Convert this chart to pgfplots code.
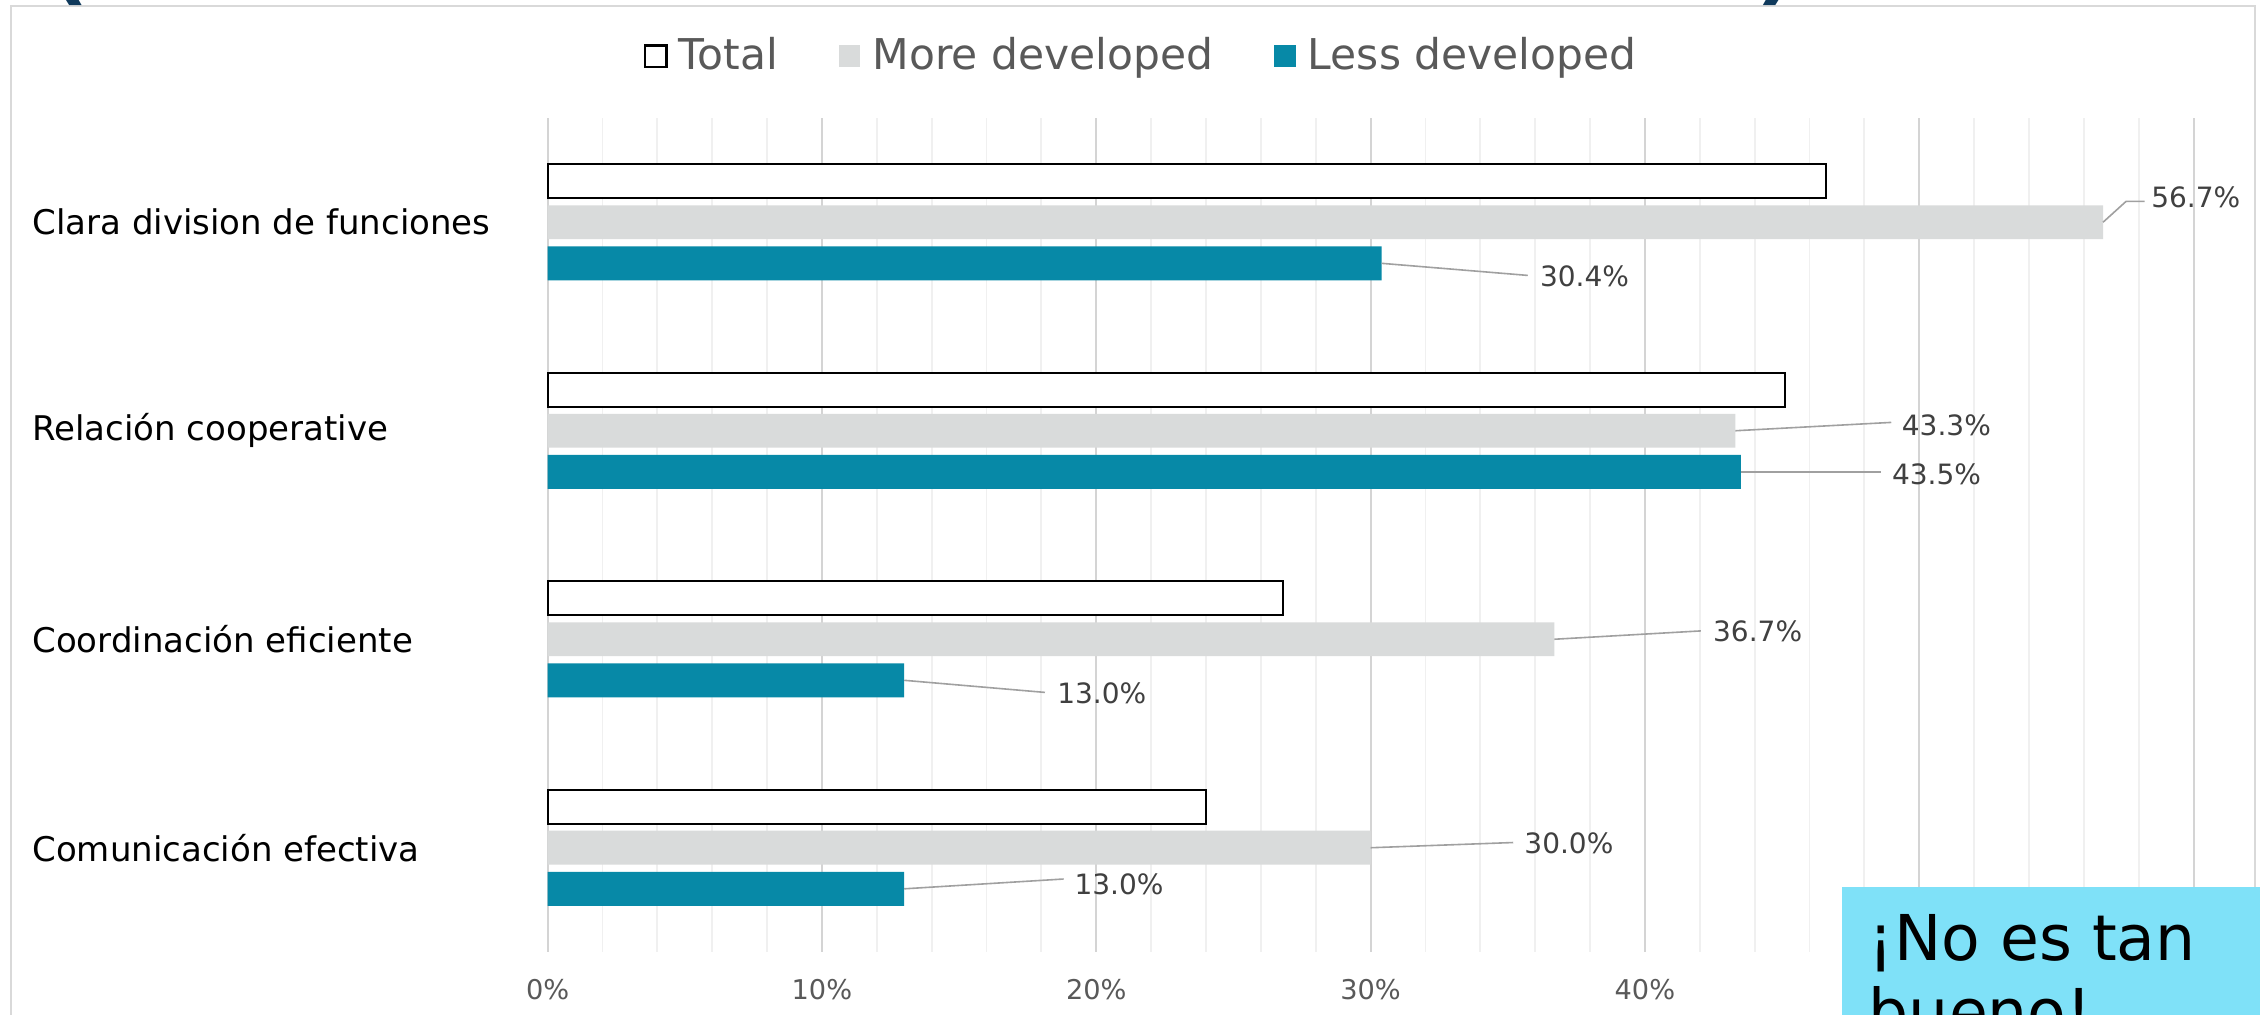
\documentclass[border=0pt]{standalone}
\usepackage{fontspec}
\setmainfont{DejaVu Sans}
\usepackage{pgfplots}
\pgfplotsset{compat=1.18}
\definecolor{moredev}{RGB}{217,219,219}
\definecolor{lessdev}{RGB}{7,137,167}
\definecolor{boxcyan}{RGB}{127,225,248}
\definecolor{navy}{RGB}{16,58,92}
\definecolor{txtgray}{RGB}{89,89,89}
\definecolor{lblgray}{RGB}{64,64,64}
\definecolor{leader}{RGB}{160,160,160}
\begin{document}
\begin{tikzpicture}
\path[use as bounding box, clip] (0pt,0pt) rectangle (565pt,253.75pt);
\fill[white] (0pt,0pt) rectangle (565pt,253.75pt);
\draw[color=black!15, line width=0.6pt] (2.75pt,-10pt) rectangle (563.75pt,252.3pt);
\node[anchor=base, font=\fontsize{40}{40}\selectfont, text=navy, inner sep=0pt] at (16pt,257.5pt) {(};
\node[anchor=base, font=\fontsize{40}{40}\selectfont, text=navy, inner sep=0pt] at (445.5pt,257.5pt) {)};
\begin{axis}[
  at={(136.9pt,15.75pt)}, anchor=south west,
  scale only axis, width=425.2pt, height=208.5pt,
  xmin=0, xmax=62, ymin=0.5, ymax=4.5,
  xbar, bar width=0.163,
  clip=false,
  axis line style={draw=none},
  major tick length=0pt, minor tick length=0pt,
  xtick={0,10,...,60},
  minor x tick num=4,
  xmajorgrids, xminorgrids,
  major grid style={color=black!17, line width=0.5pt},
  minor grid style={color=black!6, line width=0.45pt},
  /pgf/number format/assume math mode=true,
  xticklabel={\pgfmathprintnumber{\tick}\%},
  xticklabel style={font=\fontsize{6.8}{8}\selectfont, text=txtgray, anchor=center, yshift=-9.5pt},
  ytick={1,2,3,4},
  yticklabels={Comunicación efectiva, Coordinación eficiente, Relación cooperative, Clara division de funciones},
  yticklabel style={font=\fontsize{8.5}{10}\selectfont, text=black, anchor=west, inner sep=0pt, xshift=-129pt},
  legend style={at={(0.3507,1.074)}, anchor=center, draw=none, fill=none,
    font=\fontsize{10.6}{12}\selectfont, text=txtgray,
    /tikz/every even column/.append style={column sep=13.2pt}},
  legend columns=3,
  legend cell align=left,
]
\addplot[draw=black, fill=white, line width=0.5pt, bar shift=0.197,
  legend image code/.code={\draw[black, fill=white, line width=0.6pt] (0pt,-2.7pt) rectangle (5.4pt,2.7pt); \path[draw=none, fill=none] (0pt,-2.7pt) rectangle (6.5pt,2.7pt);}]
  coordinates {(46.6,4) (45.1,3) (26.8,2) (24.0,1)};
\addplot[draw=none, fill=moredev, bar shift=0,
  legend image code/.code={\fill[moredev] (0pt,-2.7pt) rectangle (5.4pt,2.7pt); \path[draw=none, fill=none] (0pt,-2.7pt) rectangle (6.5pt,2.7pt);}]
  coordinates {(56.7,4) (43.3,3) (36.7,2) (30.0,1)};
\addplot[draw=none, fill=lessdev, bar shift=-0.197,
  legend image code/.code={\fill[lessdev] (0pt,-2.7pt) rectangle (5.4pt,2.7pt); \path[draw=none, fill=none] (0pt,-2.7pt) rectangle (6.5pt,2.7pt);}]
  coordinates {(30.4,4) (43.5,3) (13.0,2) (13.0,1)};
\legend{Total, More developed, Less developed}

\begin{scope}[every node/.style={anchor=west, inner sep=0pt, font=\fontsize{7}{8}\selectfont, text=lblgray}]
\draw[leader, line width=0.4pt] (axis cs:56.7,4) -- (axis cs:57.54,4.10) -- (axis cs:58.22,4.10);
\node at (axis cs:58.43,4.121) {56.7\%};
\draw[leader, line width=0.4pt] (axis cs:30.4,3.803) -- (axis cs:35.73,3.745);
\node at (axis cs:36.15,3.74) {30.4\%};
\draw[leader, line width=0.4pt] (axis cs:43.3,3) -- (axis cs:48.98,3.04);
\node at (axis cs:49.34,3.028) {43.3\%};
\draw[leader, line width=0.4pt] (axis cs:43.5,2.803) -- (axis cs:48.6,2.803);
\node at (axis cs:48.98,2.79) {43.5\%};
\draw[leader, line width=0.4pt] (axis cs:36.7,2) -- (axis cs:42.04,2.04);
\node at (axis cs:42.46,2.04) {36.7\%};
\draw[leader, line width=0.4pt] (axis cs:13.0,1.803) -- (axis cs:18.13,1.745);
\node at (axis cs:18.55,1.74) {13.0\%};
\draw[leader, line width=0.4pt] (axis cs:30.0,1) -- (axis cs:35.2,1.025);
\node at (axis cs:35.58,1.02) {30.0\%};
\draw[leader, line width=0.4pt] (axis cs:13.0,0.803) -- (axis cs:18.81,0.85);
\node at (axis cs:19.18,0.827) {13.0\%};
\end{scope}
\end{axis}
\fill[boxcyan] (460.5pt,-5pt) rectangle (570pt,32pt);
\node[anchor=base west, inner sep=0pt, font=\fontsize{15.8}{18}\selectfont, text=black] at (467pt,13.5pt) {¡No es tan};
\node[anchor=base west, inner sep=0pt, font=\fontsize{15.8}{18}\selectfont, text=black] at (467pt,-5pt) {bueno!};
\end{tikzpicture}
\end{document}
